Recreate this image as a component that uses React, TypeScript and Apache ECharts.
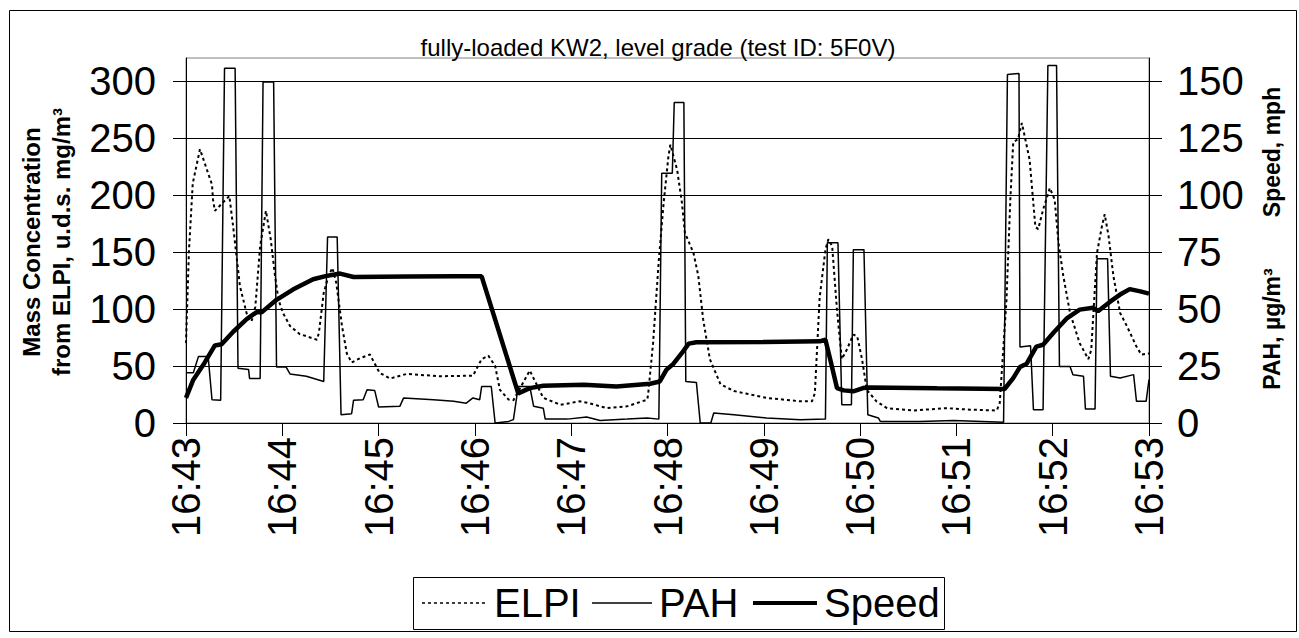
import React, { useEffect, useRef } from "react";
import * as echarts from "echarts";

// Time in minutes after 16:43
const ELPI_T = [0, 0.03, 0.07, 0.145, 0.27, 0.28, 0.3, 0.45, 0.49, 0.56, 0.63, 0.68, 0.72, 0.77, 0.83, 0.88, 0.92, 0.96, 1.01, 1.08, 1.18, 1.36, 1.38, 1.43, 1.48, 1.52, 1.56, 1.62, 1.67, 1.72, 1.81, 1.91, 2.01, 2.12, 2.29, 2.64, 2.98, 3.07, 3.14, 3.21, 3.26, 3.35, 3.4, 3.57, 3.71, 3.89, 4.09, 4.18, 4.37, 4.58, 4.79, 4.8, 4.85, 4.91, 4.96, 5.01, 5.03, 5.1, 5.15, 5.18, 5.27, 5.32, 5.37, 5.44, 5.55, 5.69, 6.03, 6.38, 6.5, 6.53, 6.58, 6.64, 6.67, 6.71, 6.76, 6.81, 6.86, 6.93, 6.97, 7.02, 7.07, 7.17, 7.28, 7.55, 7.9, 8.14, 8.42, 8.45, 8.48, 8.52, 8.56, 8.59, 8.64, 8.68, 8.71, 8.76, 8.82, 8.85, 8.9, 8.97, 9.02, 9.06, 9.11, 9.18, 9.28, 9.37, 9.4, 9.46, 9.51, 9.54, 9.58, 9.63, 9.7, 9.77, 9.87, 9.92, 10];
const ELPI = [70, 150, 210, 240, 209, 196, 186, 199, 172, 120, 96, 89, 102, 155, 186, 161, 132, 108, 96, 85, 78, 73, 79, 114, 129, 136, 123, 85, 61, 53, 57, 60, 44, 39, 43, 41, 41.5, 56, 59, 50, 29, 20.5, 20, 46, 22, 16, 19, 17.5, 13, 14.6, 20.5, 26, 70, 143, 193, 234, 244, 222, 193, 167, 149, 129, 91, 56, 34, 28, 22, 19, 19, 26, 110, 152, 161, 155, 99, 56, 64, 77.5, 76, 56, 29, 19, 13, 11, 13, 11.7, 11, 17.5, 56, 108, 196, 246, 249, 263, 251, 231, 172, 170, 187, 206, 196, 158, 129, 96.5, 70, 56, 64, 149, 172, 183, 164, 129, 96.5, 85, 67, 60, 61];

const PAH_T = [0, 0.076, 0.13, 0.23, 0.27, 0.36, 0.4, 0.51, 0.54, 0.65, 0.66, 0.77, 0.8, 0.91, 0.94, 1.04, 1.08, 1.25, 1.43, 1.47, 1.57, 1.61, 1.72, 1.74, 1.84, 1.88, 1.96, 2.0, 2.22, 2.26, 2.57, 2.78, 2.91, 2.98, 3.05, 3.07, 3.17, 3.21, 3.35, 3.4, 3.45, 3.57, 3.61, 3.71, 3.73, 3.96, 4.16, 4.3, 4.58, 4.79, 4.91, 4.94, 5.05, 5.07, 5.17, 5.19, 5.3, 5.34, 5.45, 5.48, 5.69, 6.03, 6.38, 6.64, 6.66, 6.77, 6.81, 6.91, 6.93, 7.04, 7.08, 7.19, 7.21, 7.62, 7.97, 8.49, 8.53, 8.65, 8.66, 8.77, 8.8, 8.9, 8.95, 9.04, 9.07, 9.18, 9.21, 9.32, 9.34, 9.44, 9.46, 9.57, 9.6, 9.7, 9.84, 9.87, 9.97, 10];
const PAH = [22, 22, 29.2, 29.2, 10.2, 10, 155.5, 155.5, 24, 23.4, 19.5, 19.5, 149.5, 149.5, 24.5, 24.5, 21.5, 20.5, 18.2, 81.5, 81.5, 3.6, 4.1, 10, 10.2, 14.6, 14.2, 7, 7.3, 11, 10.2, 9.5, 8.7, 11, 10.2, 16, 16, 0, 0.7, 1.5, 16, 16, 7.3, 6.5, 1.7, 1.7, 2.6, 1.1, 1.7, 2.2, 1.7, 109.5, 109.5, 140.5, 140.5, 18.2, 17.8, 0, 0, 4.4, 3.6, 2.2, 1.4, 1.7, 79, 79, 8, 8, 76, 76, 3.6, 2.2, 0.7, 0.7, 1.1, 0.3, 152.8, 153.2, 33.3, 33.9, 5.8, 5.8, 156.7, 156.7, 24.8, 24.8, 21.2, 20.5, 6.1, 6.1, 72, 72, 20.5, 19.7, 21.2, 9.5, 9.5, 19];

const SPEED_T = [0, 0.076, 0.18, 0.3, 0.37, 0.49, 0.63, 0.73, 0.785, 0.94, 1.11, 1.32, 1.46, 1.53, 1.6, 1.74, 2.3, 2.8, 3.07, 3.45, 3.57, 3.71, 4.13, 4.47, 4.82, 4.92, 4.99, 5.06, 5.15, 5.22, 5.3, 6.0, 6.58, 6.64, 6.69, 6.76, 6.83, 6.93, 7.03, 7.1, 7.8, 8.5, 8.59, 8.66, 8.73, 8.83, 8.9, 9.01, 9.15, 9.28, 9.42, 9.47, 9.6, 9.7, 9.8, 9.91, 10];
const SPEED = [11, 19, 25.5, 34, 34.5, 40, 45.5, 48.5, 48.5, 54, 58.5, 63, 64.5, 65, 65.5, 64, 64.2, 64.3, 64.3, 13, 15.3, 16.3, 16.8, 16, 17.2, 18.2, 23.4, 25.9, 30.7, 34.8, 35.4, 35.5, 35.8, 36.5, 27.8, 15.3, 14.3, 13.9, 15.3, 15.6, 15.2, 14.9, 19.7, 24.5, 26, 33.5, 34.3, 39.7, 46, 49.7, 50.5, 49, 53.3, 56.3, 58.7, 57.7, 56.7];

const LEFT_TICKS = [0, 50, 100, 150, 200, 250, 300];
const RIGHT_TICKS = [0, 25, 50, 75, 100, 125, 150];
const LEGEND_NAMES = ["ELPI", "PAH", "Speed"];

const FONT = "'Liberation Sans', Arial, sans-serif";
const ELPI_DASH = [3, 3];

const zip = (t: number[], v: number[]) => t.map((x, i) => [x, v[i]]);

export default function App() {
  const ref = useRef<HTMLDivElement>(null);
  useEffect(() => {
    document.body.style.margin = "0";
    const chart = echarts.init(ref.current!, null, { renderer: "svg" });
    const legendY = 603;
    const legendText = (text: string, x: number) => ({
      type: "text",
      x,
      y: legendY,
      style: { text, fontSize: 40, fontFamily: FONT, fill: "#000", textAlign: "left", textVerticalAlign: "middle" },
      silent: true,
    });
    const legendLine = (x1: number, x2: number, width: number, dash?: number[]) => ({
      type: "line",
      shape: { x1, y1: legendY, x2, y2: legendY },
      style: { stroke: "#000", lineWidth: width, lineDash: dash },
      silent: true,
    });
    chart.setOption({
      animation: false,
      backgroundColor: "#fff",
      textStyle: { fontFamily: FONT, color: "#000" },
      title: {
        text: "fully-loaded KW2, level grade (test ID: 5F0V)",
        left: 653,
        top: 30,
        textAlign: "center",
        textStyle: { fontSize: 24, fontWeight: "normal", color: "#000", fontFamily: FONT },
      },
      grid: {
        left: 186,
        top: 58,
        width: 963,
        height: 365,
        show: true,
        borderColor: "#808080",
        borderWidth: 1,
        backgroundColor: "transparent",
      },
      xAxis: {
        type: "value",
        min: 0,
        max: 10,
        interval: 1,
        axisLine: { show: true, lineStyle: { color: "#000", width: 1 } },
        axisTick: { show: true, length: 13, lineStyle: { color: "#000" } },
        splitLine: { show: false },
        axisLabel: {
          rotate: 90,
          margin: 14,
          fontSize: 40,
          color: "#000",
          fontFamily: FONT,
          formatter: (v: number) => `16:${43 + v}`,
        },
      },
      yAxis: [
        {
          type: "value",
          min: 0,
          max: 320,
          interval: 50,
          axisLine: { show: true, lineStyle: { color: "#000" } },
          axisTick: { show: true, length: 13, lineStyle: { color: "#000" }, customValues: LEFT_TICKS },
          axisLabel: { fontSize: 40, margin: 30, color: "#000", fontFamily: FONT, customValues: LEFT_TICKS },
          splitLine: { show: true, lineStyle: { color: "#000", width: 1 } },
        },
        {
          type: "value",
          min: 0,
          max: 160,
          interval: 25,
          position: "right",
          axisLine: { show: true, lineStyle: { color: "#000" } },
          axisTick: { show: true, length: 13, lineStyle: { color: "#000" }, customValues: RIGHT_TICKS },
          axisLabel: { fontSize: 40, margin: 28, color: "#000", fontFamily: FONT, customValues: RIGHT_TICKS },
          splitLine: { show: false },
        },
      ],
      graphic: [
        {
          type: "rect",
          shape: { x: 9.5, y: 10.5, width: 1287, height: 621 },
          style: { fill: "none", stroke: "#000", lineWidth: 1 },
          silent: true,
          z: -1,
        },
        {
          type: "text",
          x: 46,
          y: 242,
          rotation: Math.PI / 2,
          style: {
            text: "Mass Concentration\nfrom ELPI, u.d.s. mg/m³",
            fontSize: 24,
            fontWeight: "bold",
            fontFamily: FONT,
            lineHeight: 30,
            fill: "#000",
            textAlign: "center",
            textVerticalAlign: "middle",
          },
        },
        {
          type: "text",
          x: 1272,
          y: 152,
          rotation: Math.PI / 2,
          style: {
            text: "Speed, mph",
            fontSize: 23,
            fontWeight: "bold",
            fontFamily: FONT,
            fill: "#000",
            textAlign: "center",
            textVerticalAlign: "middle",
          },
        },
        {
          type: "text",
          x: 1272,
          y: 329,
          rotation: Math.PI / 2,
          style: {
            text: "PAH, µg/m³",
            fontSize: 23,
            fontWeight: "bold",
            fontFamily: FONT,
            fill: "#000",
            textAlign: "center",
            textVerticalAlign: "middle",
          },
        },
        {
          type: "rect",
          shape: { x: 413.5, y: 577.5, width: 531, height: 52 },
          style: { fill: "#fff", stroke: "#000", lineWidth: 1 },
          silent: true,
        },
        legendLine(422, 485, 1.6, ELPI_DASH),
        legendText(LEGEND_NAMES[0], 494),
        legendLine(592, 652, 1.5),
        legendText(LEGEND_NAMES[1], 659),
        legendLine(753, 817, 4),
        legendText(LEGEND_NAMES[2], 824),
      ],
      series: [
        {
          name: LEGEND_NAMES[0],
          type: "line",
          yAxisIndex: 0,
          data: zip(ELPI_T, ELPI),
          symbol: "none",
          lineStyle: { color: "#000", width: 2, type: ELPI_DASH },
          z: 2,
        },
        {
          name: LEGEND_NAMES[1],
          type: "line",
          yAxisIndex: 1,
          data: zip(PAH_T, PAH),
          symbol: "none",
          lineStyle: { color: "#000", width: 1.5 },
          z: 3,
        },
        {
          name: LEGEND_NAMES[2],
          type: "line",
          yAxisIndex: 1,
          data: zip(SPEED_T, SPEED),
          symbol: "none",
          lineStyle: { color: "#000", width: 4.5 },
          z: 4,
        },
      ],
    });
    return () => chart.dispose();
  }, []);
  return <div ref={ref} style={{ width: 1299, height: 638 }} />;
}
